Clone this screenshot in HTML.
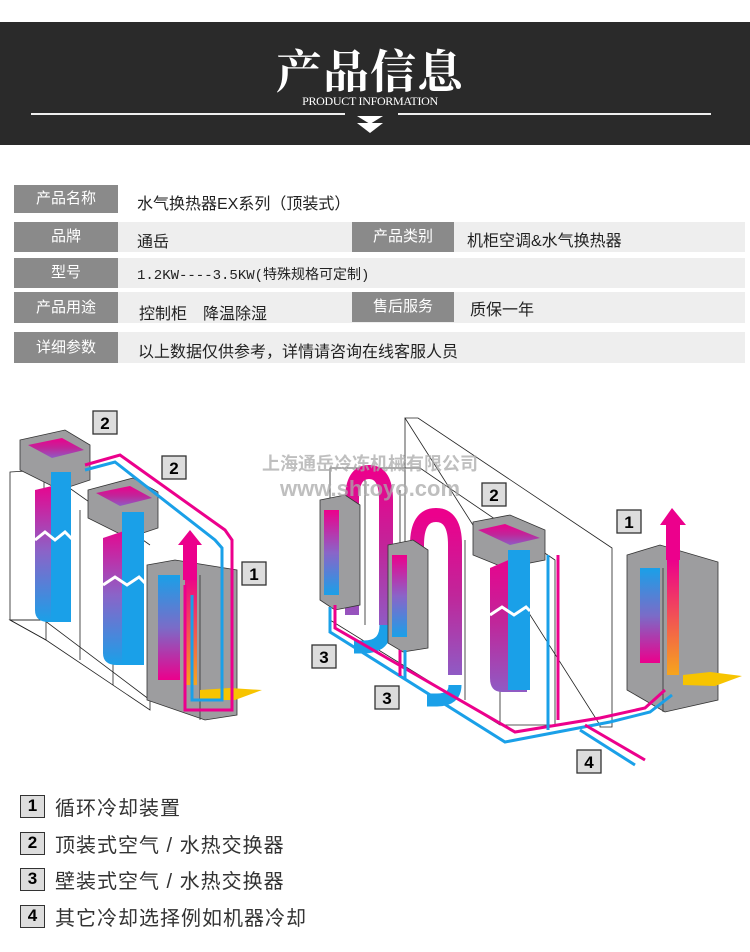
<!DOCTYPE html>
<html><head><meta charset="utf-8"><style>
*{margin:0;padding:0;box-sizing:border-box}
body{width:750px;height:952px;background:#fff;position:relative;overflow:hidden;font-family:"Liberation Sans","Noto Sans CJK SC",sans-serif}
.band{position:absolute;left:0;top:22px;width:750px;height:123px;background:#2a2a2a}
.t1{position:absolute;left:0;width:740px;text-align:center;top:36px;color:#fff;font:bold 46px "Noto Serif CJK SC",serif;letter-spacing:1px}
.t2{position:absolute;left:0;width:740px;text-align:center;top:94px;color:#fff;font:12px "Liberation Serif",serif;letter-spacing:-0.3px}
.ln{position:absolute;top:113px;height:2px;background:#eee}
.row{position:absolute;left:14px;width:731px;background:#eeeeee}
.lab{position:absolute;background:#8a8a8a;color:#fff;font-size:15px;text-align:center}
.val{position:absolute;font-size:16px;color:#222}
.leg{position:absolute;left:20px;width:25px;height:23px;border:1.5px solid #333;background:#ddd;font:bold 17px "Liberation Sans",sans-serif;text-align:center;line-height:20px}
.lt{position:absolute;left:55px;font-size:20px;color:#333;letter-spacing:1px}
</style></head><body>
<div class="band"></div>
<div class="t1">产品信息</div>
<div class="t2">PRODUCT INFORMATION</div>
<div class="ln" style="left:31px;width:314px"></div>
<div class="ln" style="left:398px;width:313px"></div>
<svg style="position:absolute;left:355px;top:116px" width="30" height="20"><polygon points="2,0 28,0 15,8" fill="#fff"/><polygon points="2,7 28,7 15,17" fill="#fff"/></svg>

<div class="row" style="top:185px;height:28px;background:#fff"></div>
<div class="lab" style="left:14px;top:185px;width:104px;height:28px;line-height:28px">产品名称</div>
<div class="val" style="left:137px;top:190px">水气换热器EX系列（顶装式）</div>

<div class="row" style="top:222px;height:30px"></div>
<div class="lab" style="left:14px;top:222px;width:104px;height:30px;line-height:30px">品牌</div>
<div class="val" style="left:137px;top:228px">通岳</div>
<div class="lab" style="left:352px;top:222px;width:102px;height:30px;line-height:30px">产品类别</div>
<div class="val" style="left:467px;top:227px">机柜空调&amp;水气换热器</div>

<div class="row" style="top:258px;height:30px"></div>
<div class="lab" style="left:14px;top:258px;width:104px;height:30px;line-height:30px">型号</div>
<div class="val" style="left:137px;top:264px;font-family:'Liberation Mono','Noto Sans CJK SC',monospace;font-size:14px">1.2KW----3.5KW(特殊规格可定制)</div>

<div class="row" style="top:292px;height:31px"></div>
<div class="lab" style="left:14px;top:292px;width:104px;height:31px;line-height:31px">产品用途</div>
<div class="val" style="left:139px;top:300px">控制柜　降温除湿</div>
<div class="lab" style="left:352px;top:292px;width:102px;height:30px;line-height:30px">售后服务</div>
<div class="val" style="left:470px;top:296px">质保一年</div>

<div class="row" style="top:332px;height:31px"></div>
<div class="lab" style="left:14px;top:332px;width:104px;height:31px;line-height:31px">详细参数</div>
<div class="val" style="left:138px;top:338px">以上数据仅供参考，详情请咨询在线客服人员</div>

<svg style="position:absolute;left:0;top:400px" width="750" height="380" viewBox="0 400 750 380">
<defs>
<linearGradient id="pg" x1="0" y1="0" x2="0" y2="1"><stop offset="0" stop-color="#ec008c"/><stop offset="0.5" stop-color="#c0269a"/><stop offset="1" stop-color="#8f5bc4"/></linearGradient>
<linearGradient id="mg" x1="0" y1="0" x2="0" y2="1"><stop offset="0" stop-color="#1aa0e8"/><stop offset="0.5" stop-color="#7a6cc8"/><stop offset="1" stop-color="#ec008c"/></linearGradient>
<linearGradient id="mg2" x1="0" y1="0" x2="0" y2="1"><stop offset="0" stop-color="#ec008c"/><stop offset="0.5" stop-color="#8a64c8"/><stop offset="1" stop-color="#1aa0e8"/></linearGradient>
<linearGradient id="og" x1="0" y1="0" x2="0" y2="1"><stop offset="0" stop-color="#ec008c"/><stop offset="1" stop-color="#f7a51c"/></linearGradient>
</defs>
<g fill="none" stroke="#222" stroke-width="0.8">
<polygon points="10,472 44,470 44,620 10,620"/>
<polygon points="10,620 44,620 150,700 150,710 46,640"/>
<line x1="44" y1="470" x2="150" y2="545"/>
<line x1="46" y1="640" x2="46" y2="490"/>
<line x1="80" y1="660" x2="80" y2="510"/>
<line x1="113" y1="685" x2="113" y2="535"/>
<line x1="10" y1="620" x2="46" y2="640"/>
<polygon points="405,418 418,418 612,548 612,727 600,727 600,725"/>
<line x1="405" y1="418" x2="405" y2="560"/>
<polygon points="330,468 420,468 555,560 555,725 500,725 330,620"/>
<line x1="365" y1="468" x2="365" y2="625"/>
<line x1="400" y1="490" x2="400" y2="650"/>
<line x1="465" y1="540" x2="465" y2="700"/>
<line x1="500" y1="560" x2="500" y2="725"/>
</g>
<polygon points="20,440 65,430 90,445 90,480 60,490 20,470" fill="#9d9d9f" stroke="#333" stroke-width="0.8"/>
<polygon points="28,445 62,438 84,450 52,458" fill="url(#pg)"/>
<path d="M35,490 v120 q0,12 14,12 h20 v-140" fill="url(#mg2)"/>
<rect x="51" y="472" width="20" height="150" fill="#1aa0e8"/>
<path d="M35,540 l10,-8 l10,8 l10,-8 l8,8" stroke="#fff" stroke-width="3" fill="none"/>
<polygon points="88,490 133,478 158,492 158,528 128,538 88,518" fill="#9d9d9f" stroke="#333" stroke-width="0.8"/>
<polygon points="96,493 130,486 152,498 120,506" fill="url(#pg)"/>
<path d="M103,538 v115 q0,12 14,12 h25 v-140" fill="url(#mg2)"/>
<rect x="122" y="512" width="22" height="153" fill="#1aa0e8"/>
<path d="M103,585 l12,-8 l12,8 l12,-8 l6,6" stroke="#fff" stroke-width="3" fill="none"/>
<polygon points="147,565 175,560 237,570 237,715 205,720 147,700" fill="#9d9d9f" stroke="#333" stroke-width="0.8"/>
<line x1="200" y1="575" x2="200" y2="720" stroke="#333" stroke-width="0.8"/>
<rect x="158" y="575" width="22" height="105" fill="url(#mg)"/>
<rect x="185" y="575" width="12" height="110" fill="url(#og)"/>
<polygon points="183,580 183,545 178,545 190,530 202,545 197,545 197,580" fill="#ec008c"/>
<polygon points="200,690 230,688 262,690 235,700 200,700" fill="#f7c400"/>
<path d="M85,465 L120,455 L225,530 L232,540 L232,710 L185,710 L185,585" fill="none" stroke="#ec008c" stroke-width="3"/>
<path d="M85,470 L115,462 L215,540 L222,548 L222,700 L192,700 L192,595" fill="none" stroke="#1aa0e8" stroke-width="3"/>
<path d="M352,615 v-115 q0,-28 17,-28 q17,0 17,28 v125" fill="none" stroke="url(#pg)" stroke-width="14"/>
<path d="M417,640 v-95 q0,-30 19,-30 q19,0 19,30 v130" fill="none" stroke="url(#pg)" stroke-width="14"/>
<path d="M386,625 q0,22 -22,22 h-10" fill="none" stroke="#1aa0e8" stroke-width="13"/>
<path d="M455,685 q0,15 -18,15 h-10" fill="none" stroke="#1aa0e8" stroke-width="13"/>
<polygon points="320,500 345,495 360,505 360,605 335,610 320,600" fill="#9d9d9f" stroke="#333" stroke-width="0.8"/>
<rect x="324" y="510" width="15" height="85" fill="url(#mg2)"/>
<polygon points="388,545 413,540 428,550 428,648 403,652 388,643" fill="#9d9d9f" stroke="#333" stroke-width="0.8"/>
<rect x="392" y="555" width="15" height="82" fill="url(#mg2)"/>
<polygon points="473,522 510,515 545,530 545,560 505,568 473,555" fill="#9d9d9f" stroke="#333" stroke-width="0.8"/>
<polygon points="478,530 505,524 540,538 510,545" fill="url(#pg)"/>
<path d="M490,568 v110 q0,14 12,14 h25 v-140" fill="url(#pg)"/>
<rect x="508" y="550" width="22" height="140" fill="#1aa0e8"/>
<path d="M490,615 l12,-8 l12,8 l12,-8 l4,4" stroke="#fff" stroke-width="3" fill="none"/>
<polygon points="627,555 660,545 718,562 718,700 665,712 627,690" fill="#9d9d9f" stroke="#333" stroke-width="0.8"/>
<line x1="663" y1="568" x2="663" y2="712" stroke="#333" stroke-width="0.8"/>
<rect x="640" y="568" width="20" height="95" fill="url(#mg)"/>
<rect x="667" y="560" width="12" height="115" fill="url(#og)"/>
<polygon points="666,560 666,525 660,525 672,508 686,525 680,525 680,560" fill="#ec008c"/>
<polygon points="683,675 710,672 742,676 715,686 683,685" fill="#f7c400"/>
<path d="M335,605 L335,628 L515,732 L600,718 L645,708 L665,690" fill="none" stroke="#ec008c" stroke-width="3"/>
<path d="M330,607 L330,632 L505,742 L610,722 L650,712 L672,695" fill="none" stroke="#1aa0e8" stroke-width="3"/>
<path d="M400,650 L400,676" stroke="#ec008c" stroke-width="3"/>
<path d="M405,650 L405,680" stroke="#1aa0e8" stroke-width="3"/>
<path d="M558,555 L558,720" stroke="#ec008c" stroke-width="3"/>
<path d="M548,555 L548,730" stroke="#1aa0e8" stroke-width="3"/>
<path d="M585,725 L645,760" stroke="#ec008c" stroke-width="3"/>
<path d="M580,730 L635,765" stroke="#1aa0e8" stroke-width="3"/>
<g font-family="Liberation Sans,sans-serif" font-weight="bold" font-size="17" text-anchor="middle">
<rect x="93" y="411" width="24" height="23" fill="#ddd" stroke="#333" stroke-width="1.3"/><text x="105" y="429">2</text>
<rect x="162" y="456" width="24" height="23" fill="#ddd" stroke="#333" stroke-width="1.3"/><text x="174" y="474">2</text>
<rect x="242" y="562" width="24" height="23" fill="#ddd" stroke="#333" stroke-width="1.3"/><text x="254" y="580">1</text>
<rect x="482" y="483" width="24" height="23" fill="#ddd" stroke="#333" stroke-width="1.3"/><text x="494" y="501">2</text>
<rect x="617" y="510" width="24" height="23" fill="#ddd" stroke="#333" stroke-width="1.3"/><text x="629" y="528">1</text>
<rect x="312" y="645" width="24" height="23" fill="#ddd" stroke="#333" stroke-width="1.3"/><text x="324" y="663">3</text>
<rect x="375" y="686" width="24" height="23" fill="#ddd" stroke="#333" stroke-width="1.3"/><text x="387" y="704">3</text>
<rect x="577" y="750" width="24" height="23" fill="#ddd" stroke="#333" stroke-width="1.3"/><text x="589" y="768">4</text>
</g>
<g fill="#aaa" opacity="0.75" font-weight="bold" text-anchor="middle">
<text x="370" y="470" font-size="18" font-family="Noto Sans CJK SC,sans-serif">上海通岳冷冻机械有限公司</text>
<text x="370" y="496" font-size="22" font-family="Liberation Sans,sans-serif">www.shtoyo.com</text>
</g>
</svg>

<div class="leg" style="top:795px">1</div><div class="lt" style="top:792px">循环冷却装置</div>
<div class="leg" style="top:832px">2</div><div class="lt" style="top:829px">顶装式空气 / 水热交换器</div>
<div class="leg" style="top:868px">3</div><div class="lt" style="top:865px">壁装式空气 / 水热交换器</div>
<div class="leg" style="top:905px">4</div><div class="lt" style="top:902px">其它冷却选择例如机器冷却</div>
</body></html>
